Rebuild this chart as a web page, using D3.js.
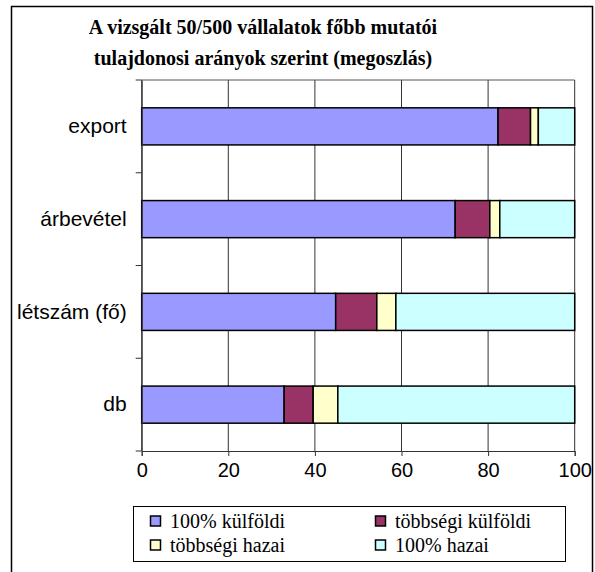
<!DOCTYPE html>
<html>
<head>
<meta charset="utf-8">
<script src="https://cdn.jsdelivr.net/npm/d3@7"></script>
<style>
  body { margin: 0; background: #fff; }
</style>
</head>
<body>
<div id="chart"></div>
<script>
const categories = ['export', 'árbevétel', 'létszám (fő)', 'db'];
const seriesNames = ['100% külföldi', 'többségi külföldi', 'többségi hazai', '100% hazai'];
const kulfoldi100 = [82.3, 72.4, 44.8, 32.9];
const tobbsegiKulfoldi = [7.5, 8.0, 9.5, 6.7];
const tobbsegiHazai = [1.8, 2.3, 4.4, 5.7];
const hazai100 = [8.4, 17.3, 41.3, 54.7];
const xTicks = [0, 20, 40, 60, 80, 100];
const titleLines = ['A vizsgált 50/500 vállalatok főbb mutatói', 'tulajdonosi arányok szerint (megoszlás)'];

const colors = ['#9999ff', '#993366', '#ffffcc', '#ccffff'];

const width = 595;
const height = 572;
const plot = { left: 141.7, right: 574.7, top: 80, bottom: 451 };

const rows = categories.map((c, i) => ({
    cat: c,
    '100% külföldi': kulfoldi100[i],
    'többségi külföldi': tobbsegiKulfoldi[i],
    'többségi hazai': tobbsegiHazai[i],
    '100% hazai': hazai100[i]
}));
const stacked = d3.stack().keys(seriesNames)(rows);

const x = d3.scaleLinear().domain([0, 100]).range([plot.left, plot.right]);
const y = d3.scaleBand().domain(categories).range([plot.top, plot.bottom]).paddingInner(0.6).paddingOuter(0.3);
const yb = d3.scaleBand().domain(categories).range([plot.top, plot.bottom]);

const svg = d3.select('#chart').append('svg')
    .attr('width', width)
    .attr('height', height);

// chart frame
svg.append('rect')
    .attr('x', 11.5).attr('y', 6.5)
    .attr('width', 581).attr('height', 575)
    .style('fill', '#fff')
    .style('stroke', '#000')
    .style('stroke-width', 1.5);

// title
svg.append('g').selectAll('text')
    .data(titleLines)
    .join('text')
    .attr('x', 263)
    .attr('y', (d, i) => 34 + i * 31)
    .attr('text-anchor', 'middle')
    .style('font-family', '"Liberation Serif", "Times New Roman", serif')
    .style('font-weight', 'bold')
    .style('font-size', '20px')
    .text(d => d);

// gridlines
svg.append('g').selectAll('line')
    .data(xTicks)
    .join('line')
    .attr('x1', d => x(d)).attr('x2', d => x(d))
    .attr('y1', plot.top).attr('y2', plot.bottom)
    .style('stroke', '#333')
    .style('stroke-width', 1);

svg.append('line')
    .attr('x1', plot.left).attr('x2', plot.right)
    .attr('y1', plot.top).attr('y2', plot.top)
    .style('stroke', '#555');

// bars
svg.append('g').selectAll('g')
    .data(stacked)
    .join('g')
    .style('fill', (d, i) => colors[i])
    .selectAll('rect')
    .data(d => d)
    .join('rect')
    .attr('x', d => x(d[0]))
    .attr('width', d => x(d[1]) - x(d[0]))
    .attr('y', d => y(d.data.cat))
    .attr('height', y.bandwidth())
    .style('stroke', '#000')
    .style('stroke-width', 1.5);

// x axis
const xAxis = svg.append('g')
    .attr('transform', `translate(0,${plot.bottom})`)
    .call(d3.axisBottom(x).tickValues(xTicks).tickSize(5).tickPadding(7));
xAxis.select('.domain').style('stroke', '#333');
xAxis.selectAll('.tick line').style('stroke', '#333');
xAxis.selectAll('text')
    .style('font-family', '"Liberation Sans", Arial, sans-serif')
    .style('font-size', '20px')
    .style('fill', '#000');

// y axis
const yAxis = svg.append('g')
    .attr('transform', `translate(${plot.left},0)`)
    .call(d3.axisLeft(yb).tickSize(0).tickPadding(15));
yAxis.select('.domain').style('stroke', '#333');
yAxis.selectAll('text')
    .style('font-family', '"Liberation Sans", Arial, sans-serif')
    .style('font-size', '21px')
    .style('fill', '#000');

// category separator ticks
svg.append('g').selectAll('line')
    .data(d3.range(categories.length + 1))
    .join('line')
    .attr('x1', plot.left - 6).attr('x2', plot.left)
    .attr('y1', d => plot.top + d * yb.step()).attr('y2', d => plot.top + d * yb.step())
    .style('stroke', '#333');

// legend
const legend = svg.append('g');
legend.append('rect')
    .attr('x', 133.5).attr('y', 506.5)
    .attr('width', 432).attr('height', 55)
    .style('fill', '#fff')
    .style('stroke', '#000');

const legendItems = legend.selectAll('g')
    .data(seriesNames)
    .join('g')
    .attr('transform', (d, i) => `translate(${i % 2 ? 375 : 150},${i < 2 ? 527.5 : 551.5})`);
legendItems.append('rect')
    .attr('x', 0.5).attr('y', -11.5)
    .attr('width', 10).attr('height', 10)
    .style('fill', (d, i) => colors[i])
    .style('stroke', '#000')
    .style('stroke-width', 1.5);
legendItems.append('text')
    .attr('x', 20)
    .attr('y', 0)
    .style('font-family', '"Liberation Serif", "Times New Roman", serif')
    .style('font-size', '20px')
    .text(d => d);
</script>
</body>
</html>
